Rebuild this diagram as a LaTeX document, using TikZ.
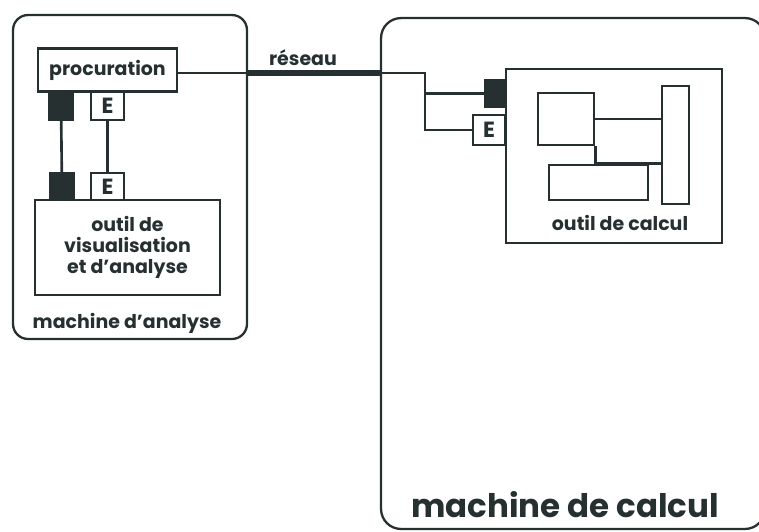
\documentclass[tikz,border=0pt]{standalone}
\usepackage{fontspec}
\setmainfont{Poppins}
\usepackage{tikz}
\definecolor{white}{rgb}{1.0, 1.0, 1.0}
\definecolor{ink}{RGB}{38, 48, 48}
\pgfdeclarelayer{edgelayer}
\pgfdeclarelayer{nodelayer}
\pgfsetlayers{edgelayer,nodelayer,main}
\tikzstyle{machine}=[rectangle,draw=ink,line width=1.3pt,inner sep=0pt]
\tikzstyle{tool}=[rectangle,draw=ink,line width=1.6pt,inner sep=0pt,align=center,text=ink,font=\fontsize{10.8}{12}\selectfont\bfseries]
\tikzstyle{blk}=[rectangle,draw=ink,fill=ink,line width=1.3pt,inner sep=0pt]
\tikzstyle{eport}=[rectangle,draw=ink,fill=white,line width=1.6pt,inner sep=0pt,text=ink,font=\fontsize{12.5}{14}\selectfont\bfseries]
\tikzstyle{part}=[rectangle,draw=ink,line width=1.6pt,inner sep=0pt]
\tikzstyle{lbl}=[text=ink,inner sep=0pt,font=\fontsize{10.8}{12}\selectfont\bfseries]
\tikzstyle{wire}=[draw=ink,line width=1.5pt]

\begin{document}
\begin{tikzpicture}[x=0.02cm, y=-0.02cm]
        \useasboundingbox (0, 0) rectangle (759, 531);
        \begin{pgfonlayer}{nodelayer}
            \node [style = machine, rounded corners=0.3cm, minimum width=4.68cm, minimum height=6.48cm] (ana) at (130, 177) {};
            \node [style = machine, rounded corners=0.4cm, minimum width=7.68cm, minimum height=10.22cm] (calc) at (573, 273.5) {};
            \node [style = tool, minimum width=2.78cm, minimum height=0.86cm] (proc) at (107.5, 70) {procuration};
            \node [style = blk, minimum width=0.48cm, minimum height=0.56cm] (pb) at (61, 106) {};
            \node [style = eport, minimum width=0.66cm, minimum height=0.56cm] (pe) at (107.5, 106) {E};
            \node [style = blk, minimum width=0.46cm, minimum height=0.54cm] (vb) at (62, 186.5) {};
            \node [style = eport, minimum width=0.66cm, minimum height=0.54cm] (ve) at (107.5, 186.5) {E};
            \node [style = tool, minimum width=3.7cm, minimum height=1.9cm] (visu) at (127.5, 247.5) {outil de\\visualisation\\et d'analyse};
            \node [style = lbl] (lana) at (127, 323) {machine d'analyse};

            \node [style = tool, minimum width=4.32cm, minimum height=3.48cm] (outc) at (614, 156) {};
            \node [style = blk, minimum width=0.4cm, minimum height=0.54cm] (cb) at (495, 93.5) {};
            \node [style = eport, minimum width=0.64cm, minimum height=0.6cm] (ce) at (489, 130) {E};
            \node [style = part, minimum width=1.12cm, minimum height=1.04cm] (pa) at (566, 119) {};
            \node [style = part, minimum width=0.54cm, minimum height=2.36cm] (pbar) at (675.5, 145) {};
            \node [style = part, minimum width=1.98cm, minimum height=0.7cm] (pc) at (598.5, 182.5) {};
            \node [style = lbl] (lcalc) at (620, 223) {outil de calcul};
            \node [style = lbl, font=\fontsize{18.5}{20}\selectfont\bfseries] (lmach) at (565, 505) {machine de calcul};
            \node [style = lbl] (lnet) at (303, 58) {réseau};

            \coordinate (n1) at (248, 73);
            \coordinate (n2) at (381, 73);
            \coordinate (j) at (425, 73);
        \end{pgfonlayer}

        \begin{pgfonlayer}{edgelayer}
            \draw [style = wire] (pb) to (vb);
            \draw [style = wire] (pe) to (ve);
            \draw [style = wire] (proc.east |- n1) to (n1);
            \draw [draw=ink, line width=3pt] (n1) to (n2);
            \draw [style = wire] (n2) to (j) |- (cb.west);
            \draw [style = wire] (j) |- (ce.west);
            \draw [style = wire] (pa.east) to (pa.east -| pbar.west);
            \draw [style = wire] (pa.south east) |- (pc.north -| pbar.west);
        \end{pgfonlayer}
    \end{tikzpicture}
\end{document}
